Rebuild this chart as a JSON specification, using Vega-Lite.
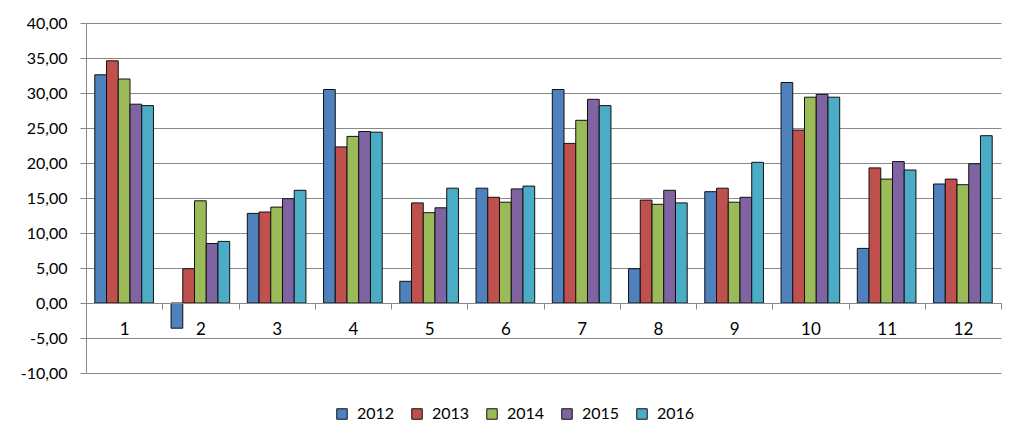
{
  "$schema": "https://vega.github.io/schema/vega-lite/v6.json",
  "autosize": "none",
  "width": 915,
  "height": 350,
  "padding": {"left": 86, "top": 23, "right": 22, "bottom": 74},
  "background": "white",
  "config": {
    "view": {"stroke": null},
    "font": "Lato",
    "axis": {"labelFont": "Lato", "labelColor": "#000000"}
  },
  "data": {
    "values": [
      {"m": 1, "year": "2012", "v": 32.6}, {"m": 1, "year": "2013", "v": 34.6}, {"m": 1, "year": "2014", "v": 32.0}, {"m": 1, "year": "2015", "v": 28.4}, {"m": 1, "year": "2016", "v": 28.2},
      {"m": 2, "year": "2012", "v": -3.6}, {"m": 2, "year": "2013", "v": 4.9}, {"m": 2, "year": "2014", "v": 14.6}, {"m": 2, "year": "2015", "v": 8.5}, {"m": 2, "year": "2016", "v": 8.8},
      {"m": 3, "year": "2012", "v": 12.8}, {"m": 3, "year": "2013", "v": 13.0}, {"m": 3, "year": "2014", "v": 13.7}, {"m": 3, "year": "2015", "v": 14.9}, {"m": 3, "year": "2016", "v": 16.1},
      {"m": 4, "year": "2012", "v": 30.5}, {"m": 4, "year": "2013", "v": 22.3}, {"m": 4, "year": "2014", "v": 23.8}, {"m": 4, "year": "2015", "v": 24.5}, {"m": 4, "year": "2016", "v": 24.4},
      {"m": 5, "year": "2012", "v": 3.1}, {"m": 5, "year": "2013", "v": 14.3}, {"m": 5, "year": "2014", "v": 12.9}, {"m": 5, "year": "2015", "v": 13.6}, {"m": 5, "year": "2016", "v": 16.4},
      {"m": 6, "year": "2012", "v": 16.4}, {"m": 6, "year": "2013", "v": 15.1}, {"m": 6, "year": "2014", "v": 14.4}, {"m": 6, "year": "2015", "v": 16.3}, {"m": 6, "year": "2016", "v": 16.7},
      {"m": 7, "year": "2012", "v": 30.5}, {"m": 7, "year": "2013", "v": 22.8}, {"m": 7, "year": "2014", "v": 26.1}, {"m": 7, "year": "2015", "v": 29.1}, {"m": 7, "year": "2016", "v": 28.2},
      {"m": 8, "year": "2012", "v": 4.9}, {"m": 8, "year": "2013", "v": 14.7}, {"m": 8, "year": "2014", "v": 14.1}, {"m": 8, "year": "2015", "v": 16.1}, {"m": 8, "year": "2016", "v": 14.3},
      {"m": 9, "year": "2012", "v": 15.9}, {"m": 9, "year": "2013", "v": 16.4}, {"m": 9, "year": "2014", "v": 14.4}, {"m": 9, "year": "2015", "v": 15.1}, {"m": 9, "year": "2016", "v": 20.1},
      {"m": 10, "year": "2012", "v": 31.5}, {"m": 10, "year": "2013", "v": 24.7}, {"m": 10, "year": "2014", "v": 29.4}, {"m": 10, "year": "2015", "v": 29.8}, {"m": 10, "year": "2016", "v": 29.4},
      {"m": 11, "year": "2012", "v": 7.8}, {"m": 11, "year": "2013", "v": 19.3}, {"m": 11, "year": "2014", "v": 17.7}, {"m": 11, "year": "2015", "v": 20.2}, {"m": 11, "year": "2016", "v": 19.0},
      {"m": 12, "year": "2012", "v": 17.0}, {"m": 12, "year": "2013", "v": 17.7}, {"m": 12, "year": "2014", "v": 16.9}, {"m": 12, "year": "2015", "v": 19.9}, {"m": 12, "year": "2016", "v": 23.9}
    ]
  },
  "mark": {"type": "bar", "stroke": "#111111", "strokeWidth": 1},
  "encoding": {
    "x": {
      "field": "m", "type": "ordinal", "title": null,
      "scale": {"paddingInner": 0, "paddingOuter": 0},
      "axis": {
        "orient": "bottom", "offset": -70, "labelAngle": 0, "labelFontSize": 17,
        "labelPadding": 12, "tickBand": "extent", "tickSize": 6, "tickColor": "#898989",
        "domainColor": "#898989", "domainWidth": 1, "grid": false, "zindex": 1
      }
    },
    "xOffset": {
      "field": "year", "type": "nominal",
      "scale": {"paddingInner": 0, "paddingOuter": 0.75}
    },
    "y": {
      "field": "v", "type": "quantitative", "title": null,
      "scale": {"domain": [-10, 40], "nice": false, "zero": false},
      "axis": {
        "values": [-10, -5, 0, 5, 10, 15, 20, 25, 30, 35, 40],
        "labelExpr": "replace(replace(format(datum.value, '.2f'), '.', ','), '\u2212', '-')",
        "labelFontSize": 16, "labelPadding": 13, "tickSize": 6, "tickColor": "#898989",
        "domainColor": "#898989", "gridColor": "#898989", "gridWidth": 1, "grid": true
      }
    },
    "color": {
      "field": "year", "type": "nominal", "title": null,
      "scale": {"domain": ["2012", "2013", "2014", "2015", "2016"], "range": ["#4F81BD", "#C0504D", "#9BBB59", "#8064A2", "#4BACC6"]},
      "legend": {
        "orient": "none", "legendX": 248, "legendY": 383, "direction": "horizontal",
        "symbolType": "square", "symbolSize": 110, "symbolStrokeColor": "#111111", "symbolStrokeWidth": 1,
        "symbolOpacity": 1, "labelFontSize": 16, "labelOffset": 7, "columnPadding": 14, "labelColor": "#000000"
      }
    }
  }
}
